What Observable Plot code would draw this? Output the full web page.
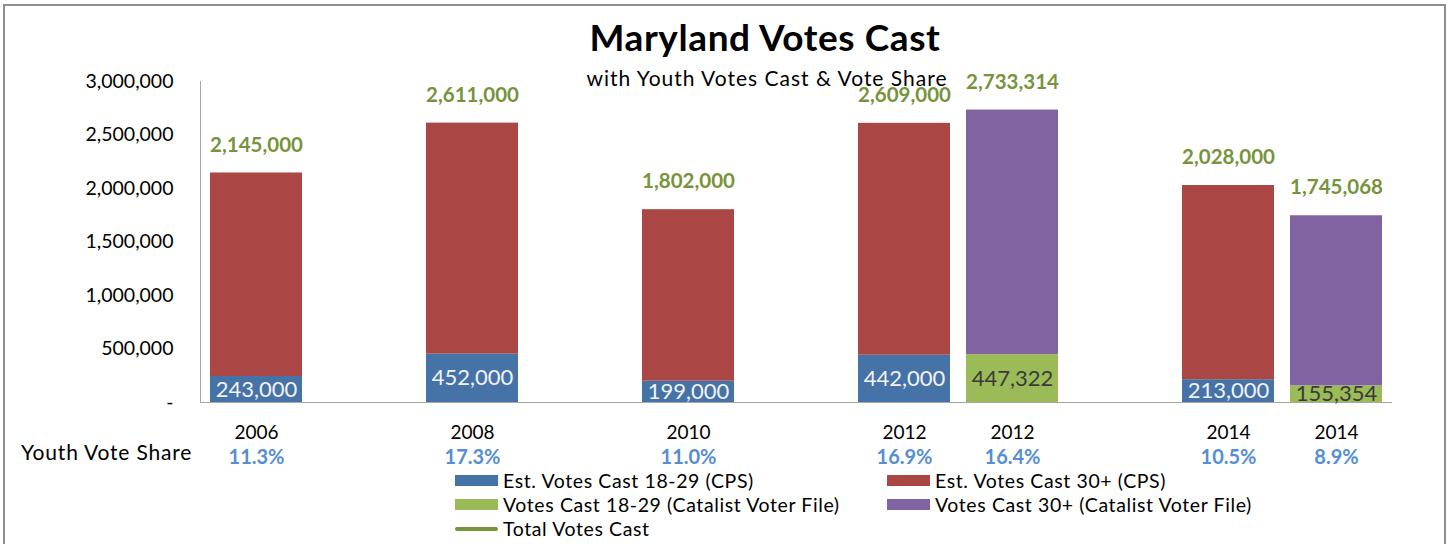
<!DOCTYPE html>
<html>
<head>
<meta charset="utf-8">
<script src="https://cdn.jsdelivr.net/npm/d3@7"></script>
<script src="https://cdn.jsdelivr.net/npm/@observablehq/plot@0.6"></script>
<style>
  body { margin: 0; background: #fff; font-family: Lato, "Open Sans", sans-serif; }
  #wrap { position: relative; width: 1453px; height: 544px; overflow: hidden; }
  #border { position: absolute; left: 3px; top: 4px; width: 1443px; height: 600px; border: 2px solid #8e8e8e; box-sizing: border-box; }
  #title { position: absolute; left: 0; width: 1530px; top: 18px; text-align: center; font-size: 37px; letter-spacing: 0.6px; font-weight: bold; color: #000; line-height: 1; }
  #subtitle { position: absolute; left: 0; width: 1534px; top: 67px; text-align: center; font-size: 21px; letter-spacing: 1px; color: #000; line-height: 1; }
  #yvs { position: absolute; left: 21px; top: 441px; font-size: 21px; letter-spacing: 0.8px; color: #000; line-height: 1; }
  .leg { position: absolute; font-size: 19.5px; letter-spacing: 0.6px; line-height: 1; color: #000; display: flex; align-items: center; }
  .sw { width: 43px; height: 11px; margin-right: 5px; }
  .ln { width: 43px; height: 4px; border-radius: 2px; margin-right: 5px; }
  #chart { position: absolute; left: 0; top: 0; }
</style>
</head>
<body>
<div id="wrap">
  <div id="chart"></div>
  <div id="border"></div>
  <div id="title">Maryland Votes Cast</div>
  <div id="subtitle">with Youth Votes Cast &amp; Vote Share</div>
  <div id="yvs">Youth Vote Share</div>
  <div id="legend"></div>
</div>
<script>
// ---- data ----
const years = ["2006", "2008", "2010", "2012", "2012", "2014", "2014"];
const sources = ["CPS", "CPS", "CPS", "CPS", "Catalist", "CPS", "Catalist"];
const youthVotes = [243000, 452000, 199000, 442000, 447322, 213000, 155354];
const totalVotes = [2145000, 2611000, 1802000, 2609000, 2733314, 2028000, 1745068];
const youthShare = ["11.3%", "17.3%", "11.0%", "16.9%", "16.4%", "10.5%", "8.9%"];
const seriesNames = [
  "Est. Votes Cast 18-29 (CPS)",
  "Est. Votes Cast 30+ (CPS)",
  "Votes Cast 18-29 (Catalist Voter File)",
  "Votes Cast 30+ (Catalist Voter File)"
];
const seriesColors = ["#4572A7", "#AA4643", "#9BBB59", "#8064A2"];
const totalName = "Total Votes Cast";
const totalColor = "#77933C";
const yTicks = [0, 500000, 1000000, 1500000, 2000000, 2500000, 3000000];

// ---- build ----
const keys = years.map((y, i) => y + " " + sources[i]);
const xDomain = [keys[0], "gap1", keys[1], "gap2", keys[2], "gap3", keys[3], keys[4], "gap4", keys[5], keys[6]];

const segs = [];
keys.forEach((k, i) => {
  const cps = sources[i] === "CPS";
  segs.push({key: k, y1: 0, y2: youthVotes[i], series: cps ? seriesNames[0] : seriesNames[2]});
  segs.push({key: k, y1: youthVotes[i], y2: totalVotes[i], series: cps ? seriesNames[1] : seriesNames[3]});
});
const rows = keys.map((k, i) => ({key: k, year: years[i], youth: youthVotes[i], total: totalVotes[i], share: youthShare[i], cps: sources[i] === "CPS"}));

const fmt = d3.format(",");

const chart = Plot.plot({
  width: 1453,
  height: 544,
  marginLeft: 200,
  marginRight: 61,
  marginTop: 81,
  marginBottom: 142,
  style: {fontFamily: "Lato, 'Open Sans', sans-serif", background: "transparent", overflow: "visible"},
  x: {type: "band", domain: xDomain, paddingInner: 0.15, paddingOuter: 0.075, axis: null},
  y: {domain: [0, 3000000], axis: null},
  color: {domain: seriesNames, range: seriesColors},
  marks: [
    Plot.barY(segs, {x: "key", y1: "y1", y2: "y2", fill: "series"}),
    Plot.frame({anchor: "left", stroke: "#a6a6a6"}),
    Plot.ruleY([0], {stroke: "#a6a6a6"}),
    Plot.axisY({ticks: yTicks, tickSize: 0, tickPadding: 27, fontSize: 19.5, tickFormat: d => d === 0 ? "-" : fmt(d), fill: "#000"}),
    Plot.text(rows, {x: "key", y: "total", text: d => fmt(d.total), dy: -28, fill: totalColor, fontWeight: "bold", fontSize: 20.5}),
    Plot.text(rows, {x: "key", y: d => d.youth / 2, text: d => fmt(d.youth), fill: d => d.cps ? "#f2f2f2" : "#3a3a3a", fontSize: 22}),
    Plot.text(rows, {x: "key", y: 0, text: "year", dy: 30, fill: "#000", fontSize: 19}),
    Plot.text(rows, {x: "key", y: 0, text: "share", dy: 55, fill: "#558ED5", fontWeight: "bold", fontSize: 20})
  ]
});
document.getElementById("chart").appendChild(chart);

// ---- legend ----
const legend = document.getElementById("legend");
const legPos = [[455, 481], [887, 481], [455, 505], [887, 505]];
seriesNames.forEach((n, i) => {
  const d = document.createElement("div");
  d.className = "leg";
  d.style.left = legPos[i][0] + "px";
  d.style.top = (legPos[i][1] - 10) + "px";
  d.innerHTML = `<div class="sw" style="background:${seriesColors[i]}"></div><span>${n}</span>`;
  legend.appendChild(d);
});
const t = document.createElement("div");
t.className = "leg";
t.style.left = "455px";
t.style.top = (529 - 10) + "px";
t.innerHTML = `<div class="ln" style="background:${totalColor}"></div><span>${totalName}</span>`;
legend.appendChild(t);
</script>
</body>
</html>
